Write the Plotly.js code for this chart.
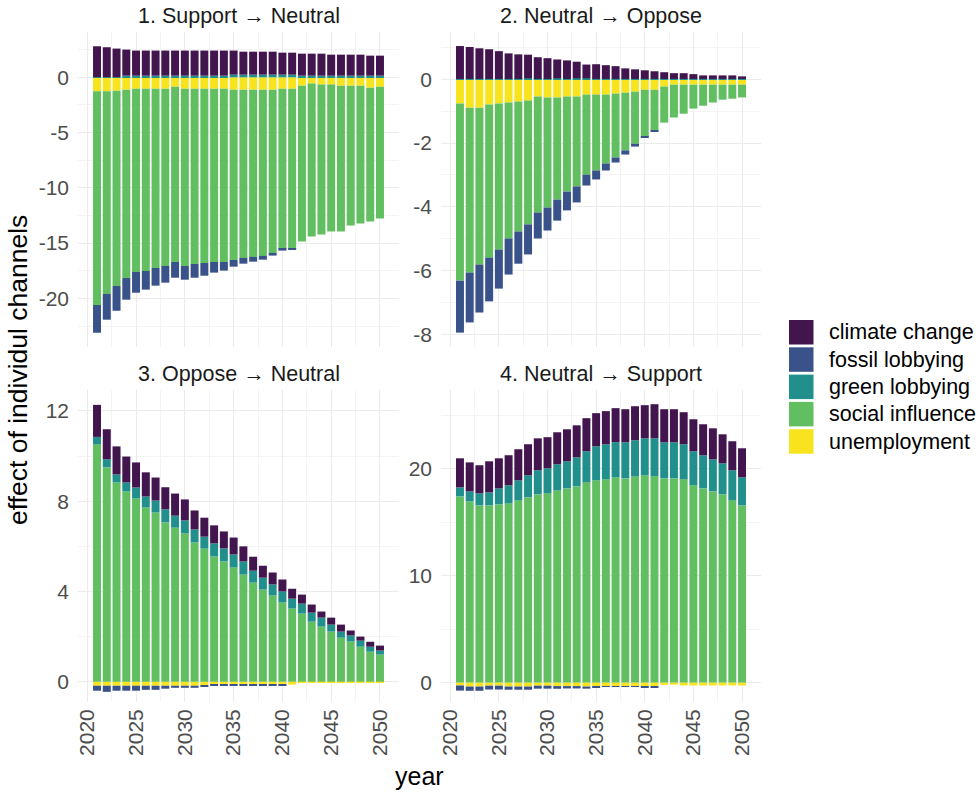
<!DOCTYPE html>
<html>
<head>
<meta charset="utf-8">
<script src="https://cdn.plot.ly/plotly-3.0.1.min.js"></script>
<style>
  body { margin: 0; background: #fff; }
  #chart { width: 979px; height: 794px; }
</style>
</head>
<body>
<div id="chart"></div>
<script>
// years on the x axis
const years = [2021, 2022, 2023, 2024, 2025, 2026, 2027, 2028, 2029, 2030,
               2031, 2032, 2033, 2034, 2035, 2036, 2037, 2038, 2039, 2040,
               2041, 2042, 2043, 2044, 2045, 2046, 2047, 2048, 2049, 2050];
const xTicks = [2020, 2025, 2030, 2035, 2040, 2045, 2050];

const channels = ['climate change', 'fossil lobbying', 'green lobbying', 'social influence', 'unemployment'];
const channelColors = ['#42154F', '#3A528A', '#21908C', '#62BF61', '#F7E41F'];

const panelTitles = ['1. Support \u2192 Neutral', '2. Neutral \u2192 Oppose', '3. Oppose \u2192 Neutral', '4. Neutral \u2192 Support'];

// 1. Support -> Neutral
const p1Climate = [2.79, 2.70, 2.58, 2.36, 2.27, 2.27, 2.27, 2.27, 2.27, 2.27, 2.27, 2.27, 2.27, 2.27, 2.18,
                   2.08, 2.08, 2.08, 2.08, 1.99, 1.99, 1.99, 1.99, 1.99, 1.90, 1.90, 1.90, 1.90, 1.81, 1.81];
const p1Fossil = [-2.51, -2.33, -2.24, -1.96, -1.88, -1.69, -1.60, -1.51, -1.42, -1.24, -1.24, -1.15, -0.96, -0.78, -0.60,
                  -0.52, -0.43, -0.34, -0.24, -0.15, -0.06, 0, 0, 0, 0, 0, 0, 0, 0, 0];
const p1Green = [0.02, 0.02, 0.02, 0.15, 0.15, 0.15, 0.15, 0.15, 0.15, 0.15, 0.15, 0.15, 0.15, 0.15, 0.24,
                 0.24, 0.24, 0.24, 0.24, 0.24, 0.24, 0.15, 0.15, 0.15, 0.15, 0.15, 0.15, 0.15, 0.15, 0.15];
const p1Social = [-19.33, -18.33, -17.67, -17.04, -16.58, -16.49, -16.22, -16.04, -15.86, -16.04, -15.86, -15.77, -15.68, -15.68, -15.41,
                  -15.22, -15.13, -15.04, -14.77, -14.50, -14.50, -14.10, -13.84, -13.57, -13.30, -13.20, -12.65, -12.47, -12.11, -11.93];
const p1Unemp = [-1.27, -1.27, -1.21, -1.12, -1.03, -1.03, -1.03, -1.03, -0.85, -1.03, -1.03, -1.03, -1.03, -1.03, -1.12,
                 -1.12, -1.12, -1.12, -1.12, -1.03, -1.03, -0.76, -0.57, -0.66, -0.66, -0.76, -0.76, -0.76, -0.94, -0.85];

// 2. Neutral -> Oppose
const p2Climate = [1.03, 1.00, 0.96, 0.93, 0.87, 0.80, 0.77, 0.74, 0.68, 0.65, 0.59, 0.58, 0.52, 0.43, 0.46,
                   0.43, 0.40, 0.33, 0.30, 0.27, 0.24, 0.21, 0.18, 0.18, 0.15, 0.11, 0.11, 0.11, 0.11, 0.08];
const p2Fossil = [-1.63, -1.56, -1.50, -1.37, -1.22, -1.13, -1.01, -0.94, -0.81, -0.72, -0.66, -0.59, -0.50, -0.34, -0.28,
                  -0.22, -0.16, -0.13, -0.09, -0.03, -0.03, 0, 0, 0, 0, 0, 0, 0, 0, 0];
const p2Green = [0.01, 0.01, 0.01, 0.01, 0.01, 0.01, 0.01, 0.03, 0.01, 0.01, 0.03, 0.01, 0.03, 0.03, 0.01,
                 0.01, 0.01, 0.01, 0.01, 0.01, 0.01, 0.01, 0.01, 0.01, 0.01, 0.01, 0.01, 0.01, 0.01, 0.01];
const p2Social = [-5.55, -5.17, -4.92, -4.80, -4.58, -4.26, -4.07, -3.88, -3.64, -3.45, -3.20, -2.98, -2.82, -2.51, -2.38,
                  -2.16, -2.00, -1.81, -1.63, -1.47, -1.28, -1.13, -1.03, -0.91, -0.75, -0.66, -0.56, -0.47, -0.44, -0.40];
const p2Unemp = [-0.76, -0.89, -0.89, -0.79, -0.76, -0.73, -0.70, -0.67, -0.54, -0.57, -0.57, -0.54, -0.54, -0.48, -0.48,
                 -0.48, -0.45, -0.42, -0.39, -0.33, -0.33, -0.23, -0.17, -0.17, -0.17, -0.17, -0.17, -0.17, -0.17, -0.17];

// 3. Oppose -> Neutral
const p3Climate = [1.42, 1.33, 1.24, 1.15, 1.11, 1.07, 1.02, 0.98, 0.98, 0.93, 0.84, 0.84, 0.80, 0.75, 0.75,
                   0.67, 0.62, 0.53, 0.53, 0.53, 0.44, 0.40, 0.36, 0.27, 0.31, 0.31, 0.22, 0.18, 0.22, 0.22];
const p3Fossil = [-0.22, -0.27, -0.22, -0.22, -0.22, -0.18, -0.18, -0.13, -0.09, -0.09, -0.09, -0.04, -0.04, -0.03, -0.03,
                  -0.03, -0.03, -0.03, -0.03, -0.03, 0, 0, 0, 0, 0, 0, 0, 0, 0, 0];
const p3Green = [0.33, 0.36, 0.36, 0.40, 0.49, 0.49, 0.53, 0.58, 0.53, 0.58, 0.58, 0.53, 0.58, 0.58, 0.58,
                 0.58, 0.53, 0.53, 0.49, 0.49, 0.44, 0.44, 0.40, 0.40, 0.31, 0.27, 0.27, 0.27, 0.22, 0.18];
const p3Social = [10.52, 9.50, 8.83, 8.43, 8.12, 7.72, 7.50, 7.06, 6.83, 6.57, 6.17, 5.90, 5.55, 5.33, 5.06,
                  4.75, 4.39, 4.08, 3.82, 3.51, 3.24, 3.02, 2.66, 2.44, 2.22, 1.95, 1.78, 1.55, 1.33, 1.20];
const p3Unemp = [-0.18, -0.18, -0.18, -0.18, -0.18, -0.18, -0.18, -0.18, -0.18, -0.18, -0.18, -0.18, -0.13, -0.13, -0.13,
                 -0.13, -0.13, -0.13, -0.13, -0.13, -0.13, -0.06, -0.02, -0.02, -0.02, -0.02, -0.02, -0.02, -0.02, -0.02];

// 4. Neutral -> Support
const p4Climate = [2.72, 2.72, 2.63, 2.91, 2.82, 2.82, 2.91, 2.91, 3.00, 2.91, 3.00, 3.00, 3.00, 3.10, 3.10,
                   3.10, 3.19, 3.10, 3.19, 3.10, 3.19, 3.10, 3.10, 3.00, 3.00, 2.91, 2.91, 2.72, 2.72, 2.72];
const p4Fossil = [-0.48, -0.40, -0.40, -0.36, -0.36, -0.30, -0.30, -0.30, -0.28, -0.28, -0.25, -0.22, -0.22, -0.20, -0.10,
                  -0.08, -0.08, -0.08, -0.08, -0.08, -0.08, 0, 0, 0, 0, 0, 0, 0, 0, 0];
const p4Green = [0.85, 0.94, 1.13, 1.22, 1.50, 1.69, 1.88, 2.07, 2.25, 2.35, 2.44, 2.54, 2.72, 2.91, 3.19,
                 3.29, 3.29, 3.38, 3.38, 3.47, 3.57, 3.38, 3.38, 3.29, 3.19, 3.10, 3.00, 2.91, 2.82, 2.63];
const p4Social = [17.43, 16.96, 16.59, 16.59, 16.68, 16.78, 17.06, 17.34, 17.62, 17.72, 18.00, 18.18, 18.37, 18.75, 18.94,
                  19.03, 19.22, 19.12, 19.31, 19.41, 19.31, 19.12, 19.12, 19.03, 18.47, 18.18, 17.90, 17.62, 17.06, 16.59];
const p4Unemp = [-0.28, -0.38, -0.38, -0.30, -0.30, -0.38, -0.38, -0.38, -0.30, -0.30, -0.34, -0.34, -0.34, -0.38, -0.34,
                 -0.34, -0.34, -0.34, -0.34, -0.38, -0.38, -0.22, -0.20, -0.28, -0.28, -0.28, -0.28, -0.28, -0.28, -0.28];

const panels = [
  {climate: p1Climate, fossil: p1Fossil, green: p1Green, social: p1Social, unemp: p1Unemp},
  {climate: p2Climate, fossil: p2Fossil, green: p2Green, social: p2Social, unemp: p2Unemp},
  {climate: p3Climate, fossil: p3Fossil, green: p3Green, social: p3Social, unemp: p3Unemp},
  {climate: p4Climate, fossil: p4Fossil, green: p4Green, social: p4Social, unemp: p4Unemp},
];

const FONT = 'Liberation Sans, Arial, sans-serif';
const W = 979, H = 794;
const px = v => v / W;
const py = v => 1 - v / H;

// panel boxes in pixels: [left, right, top, bottom]
const boxes = [[78, 399, 32, 347], [441, 761, 32, 347], [78, 399, 390, 702], [441, 761, 390, 702]];
const yRanges = [[-24.4, 4.1], [-8.39, 1.48], [-0.9, 12.93], [-1.83, 27.4]];
const yTicks = [[-20, -15, -10, -5, 0], [-8, -6, -4, -2, 0], [0, 4, 8, 12], [0, 10, 20]];
const yMinor = [2.5, 1, 2, 5];

const data = [];
panels.forEach((p, i) => {
  const sfx = i === 0 ? '' : String(i + 1);
  // relative stacking: first trace sits next to zero
  const order = [['unemp', 4], ['social', 3], ['green', 2], ['fossil', 1], ['climate', 0]];
  order.forEach(([key, c]) => {
    data.push({
      type: 'bar',
      x: years,
      y: p[key],
      name: channels[c],
      width: 0.82,
      marker: {color: channelColors[c], line: {width: 0}},
      xaxis: 'x' + sfx,
      yaxis: 'y' + sfx,
      showlegend: false,
      hoverinfo: 'x+y+name'
    });
  });
});

const layout = {
  width: W,
  height: H,
  margin: {l: 0, r: 0, t: 0, b: 0},
  paper_bgcolor: '#fff',
  plot_bgcolor: '#fff',
  barmode: 'relative',
  font: {family: FONT, color: '#4d4d4d'},
  annotations: [],
  shapes: []
};

boxes.forEach((b, i) => {
  const sfx = i === 0 ? '' : String(i + 1);
  layout['xaxis' + sfx] = {
    domain: [px(b[0]), px(b[1])],
    anchor: 'y' + sfx,
    range: [2019.05, 2051.95],
    tickvals: xTicks,
    ticktext: xTicks.map(String),
    showticklabels: i >= 2,
    tickangle: -90,
    tickfont: {size: 21, color: '#4d4d4d', family: FONT},
    ticks: '',
    ticklabelstandoff: 2,
    showline: false,
    zeroline: false,
    gridcolor: '#ebebeb',
    gridwidth: 1.1,
    minor: {dtick: 2.5, tick0: 2020, showgrid: true, gridcolor: '#f4f4f4', gridwidth: 0.6}
  };
  layout['yaxis' + sfx] = {
    domain: [py(b[3]), py(b[2])],
    anchor: 'x' + sfx,
    range: yRanges[i],
    tickvals: yTicks[i],
    ticktext: yTicks[i].map(String),
    tickfont: {size: 21, color: '#4d4d4d', family: FONT},
    ticks: '',
    ticklabelstandoff: 8,
    showline: false,
    zeroline: false,
    gridcolor: '#ebebeb',
    gridwidth: 1.1,
    minor: {dtick: yMinor[i], tick0: 0, showgrid: true, gridcolor: '#f4f4f4', gridwidth: 0.6}
  };
  layout.annotations.push({
    text: panelTitles[i],
    xref: 'paper', yref: 'paper',
    x: px((b[0] + b[1]) / 2), y: py(b[2] - 16),
    xanchor: 'center', yanchor: 'middle',
    showarrow: false,
    font: {size: 21.5, color: '#1a1a1a', family: FONT}
  });
});

// axis titles
layout.annotations.push({
  text: 'year', xref: 'paper', yref: 'paper',
  x: px(419), y: py(776), xanchor: 'center', yanchor: 'middle',
  showarrow: false, font: {size: 25, color: '#000', family: FONT}
});
layout.annotations.push({
  text: 'effect of individul channels', xref: 'paper', yref: 'paper',
  x: px(18), y: py(370), xanchor: 'center', yanchor: 'middle', textangle: -90,
  showarrow: false, font: {size: 26.5, color: '#000', family: FONT}
});

// legend, drawn by hand to get ggplot sized keys
channels.forEach((name, k) => {
  const top = 320 + k * 27.3;
  layout.shapes.push({
    type: 'rect', xref: 'paper', yref: 'paper',
    x0: px(789), x1: px(813.5), y0: py(top + 24.5), y1: py(top),
    fillcolor: channelColors[k], line: {width: 0}
  });
  layout.annotations.push({
    text: name, xref: 'paper', yref: 'paper',
    x: px(827), y: py(top + 12.5), xanchor: 'left', yanchor: 'middle',
    showarrow: false, font: {size: 21.5, color: '#000', family: FONT}
  });
});

const config = {responsive: false, displayModeBar: false};

Plotly.newPlot('chart', data, layout, config);
</script>
</body>
</html>
